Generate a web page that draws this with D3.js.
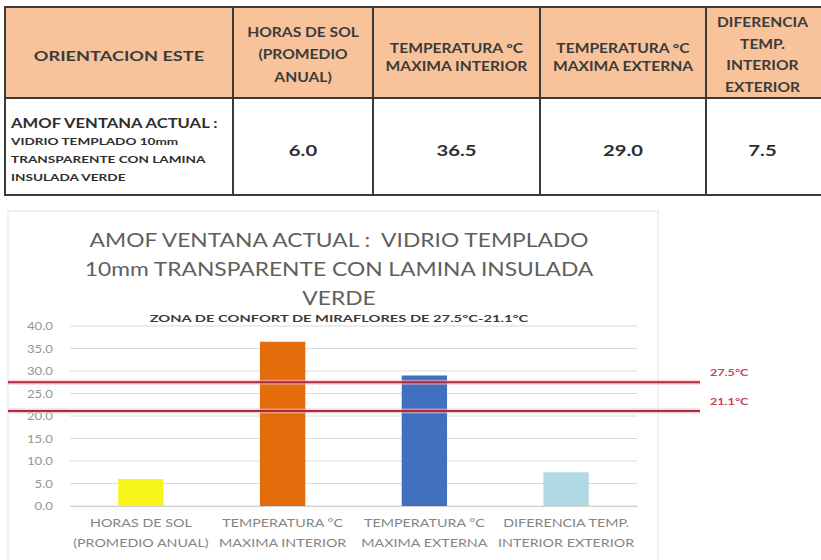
<!DOCTYPE html>
<html>
<head>
<meta charset="utf-8">
<script src="https://cdn.jsdelivr.net/npm/d3@7"></script>
<style>
  body { margin: 0; background: #fff; }
  svg { display: block; font-family: Lato, "Open Sans", sans-serif; }
  svg text { white-space: pre; }
</style>
</head>
<body>
<div id="chart"></div>
<script>
// Data
const categories = ["HORAS DE SOL|(PROMEDIO ANUAL)", "TEMPERATURA °C|MAXIMA INTERIOR", "TEMPERATURA °C|MAXIMA EXTERNA", "DIFERENCIA TEMP.|INTERIOR EXTERIOR"];
const values = [6.0, 36.5, 29.0, 7.5];
const barColors = ["#f7f41c", "#e46c0a", "#4170c0", "#b1d9e4"];
const yTicks = [0, 5, 10, 15, 20, 25, 30, 35, 40];
const comfortLines = [27.5, 21.1];
const comfortLabels = ["27.5°C", "21.1°C"];

const tableHeaders = [
  ["ORIENTACION ESTE"],
  ["HORAS DE SOL", "(PROMEDIO", "ANUAL)"],
  ["TEMPERATURA °C", "MAXIMA INTERIOR"],
  ["TEMPERATURA °C", "MAXIMA EXTERNA"],
  ["DIFERENCIA", "TEMP.", "INTERIOR", "EXTERIOR"]
];
const rowTitle = "AMOF VENTANA ACTUAL :";
const rowSub = ["VIDRIO TEMPLADO 10mm", "TRANSPARENTE CON LAMINA", "INSULADA VERDE"];
const rowValues = ["6.0", "36.5", "29.0", "7.5"];

const titleLines = ["AMOF VENTANA ACTUAL :  VIDRIO TEMPLADO", "10mm TRANSPARENTE CON LAMINA INSULADA", "VERDE"];
const subtitle = "ZONA DE CONFORT DE MIRAFLORES DE 27.5°C-21.1°C";

const width = 821;
const height = 560;

const svg = d3.select("#chart")
  .append("svg")
  .attr("width", width)
  .attr("height", height);

// text helper: the source picture is stretched sideways, so glyphs get a horizontal scale
function label(g, x, y, txt, o) {
  return g.append("text")
    .attr("transform", `translate(${x},${y}) scale(${o.sx || 1},1)`)
    .attr("dy", "0.35em")
    .attr("text-anchor", o.anchor || "middle")
    .style("font-size", o.size + "px")
    .style("font-weight", o.weight || "400")
    .style("fill", o.fill || "#333")
    .text(txt);
}

// ---- Table ----
const colEdges = [5, 233, 373, 540, 706, 840];
const rowTop = 7, rowMid = 98, rowBottom = 195;
const lineColor = "#3a3a3a";

svg.append("rect")
  .attr("x", colEdges[0]).attr("y", rowTop)
  .attr("width", colEdges[5] - colEdges[0]).attr("height", rowMid - rowTop)
  .attr("fill", "#f8c39a");

const table = svg.append("g");
table.append("rect")
  .attr("x", colEdges[0]).attr("y", rowTop)
  .attr("width", colEdges[5] - colEdges[0]).attr("height", rowBottom - rowTop)
  .attr("fill", "none").attr("stroke", lineColor).attr("stroke-width", 2);
table.append("line")
  .attr("x1", colEdges[0]).attr("x2", colEdges[5])
  .attr("y1", rowMid).attr("y2", rowMid)
  .attr("stroke", lineColor).attr("stroke-width", 2);
table.selectAll(".col-line")
  .data(colEdges.slice(1, 5))
  .join("line")
  .attr("class", "col-line")
  .attr("x1", d => d).attr("x2", d => d)
  .attr("y1", rowTop).attr("y2", rowBottom)
  .attr("stroke", lineColor).attr("stroke-width", 2);

// header texts (line spacing and centre per column)
const headLh = [0, 22.5, 18, 18, 21.5];
const headCy = [56, 55, 58, 58, 55];
tableHeaders.forEach((lines, i) => {
  const cx = i === 4 ? (colEdges[4] + 819) / 2 : (colEdges[i] + colEdges[i + 1]) / 2;
  const start = headCy[i] - (lines.length - 1) * headLh[i] / 2;
  lines.forEach((t, j) => {
    label(table, cx, start + j * headLh[i], t, {
      size: i === 0 ? 14 : 12.5, sx: i === 0 ? 1.3 : 1.25, weight: 700, fill: "#3b3b3b"
    });
  });
});

// data row
label(table, 11, 124, rowTitle, { size: 12.5, sx: 1.33, weight: 700, anchor: "start", fill: "#2e2e2e" });
rowSub.forEach((t, j) => {
  label(table, 11, 142 + j * 18, t, { size: 8.5, sx: 1.6, weight: 700, anchor: "start", fill: "#2e2e2e" });
});
rowValues.forEach((t, i) => {
  const cx = i === 3 ? (colEdges[4] + 819) / 2 : (colEdges[i + 1] + colEdges[i + 2]) / 2;
  label(table, cx, 151, t, { size: 15, sx: 1.35, weight: 700, fill: "#2e2e2e" });
});

// ---- Chart ----
svg.append("rect")
  .attr("x", 8).attr("y", 211)
  .attr("width", 650).attr("height", 360)
  .attr("fill", "#fff").attr("stroke", "#e3e3e3").attr("stroke-width", 1);

const plot = { left: 70, right: 637, top: 326, bottom: 506 };

const x = d3.scaleBand()
  .domain(categories)
  .range([plot.left, plot.right])
  .paddingInner(0.68)
  .paddingOuter(0.34);

const y = d3.scaleLinear()
  .domain([0, 40])
  .range([plot.bottom, plot.top]);

// title
const titleG = svg.append("g");
titleLines.forEach((t, i) => {
  label(titleG, 339, 240 + i * 29, t, { size: 20, sx: 1.14, fill: "#5f5f5f" });
});
label(svg, 339, 318, subtitle, { size: 10, sx: 1.47, weight: 700, fill: "#3a3a3a" });

// gridlines
svg.append("g")
  .selectAll("line")
  .data(yTicks)
  .join("line")
  .attr("x1", plot.left).attr("x2", plot.right)
  .attr("y1", d => y(d)).attr("y2", d => y(d))
  .attr("stroke", "#dadada").attr("stroke-width", 1);

// y axis labels
const yAxis = svg.append("g")
  .attr("transform", `translate(${plot.left - 17},0)`)
  .call(d3.axisLeft(y).tickValues(yTicks).tickFormat(d3.format(".1f")).tickSize(0).tickPadding(0));
yAxis.select(".domain").remove();
yAxis.selectAll(".tick text")
  .attr("x", null)
  .attr("transform", "scale(1.2,1)")
  .style("font-family", "Lato, sans-serif")
  .style("font-size", "11px")
  .style("fill", "#969696");

// bars
svg.append("g")
  .selectAll("rect")
  .data(values)
  .join("rect")
  .attr("x", (d, i) => x(categories[i]))
  .attr("width", x.bandwidth())
  .attr("y", d => y(d))
  .attr("height", d => y(0) - y(d))
  .attr("fill", (d, i) => barColors[i]);

// x axis
const xAxis = svg.append("g")
  .attr("transform", `translate(0,${plot.bottom})`)
  .call(d3.axisBottom(x).tickSize(0).tickFormat(""));
xAxis.select(".domain").attr("stroke", "#d0d0d0");
const xLabels = svg.append("g");
categories.forEach(c => {
  c.split("|").forEach((t, j) => {
    label(xLabels, x(c) + x.bandwidth() / 2, 523 + j * 20, t, { size: 11, sx: 1.3, fill: "#858585" });
  });
});

// comfort zone lines
const comfort = svg.append("g");
comfortLines.forEach((v, i) => {
  comfort.append("line")
    .attr("x1", 8).attr("x2", 700)
    .attr("y1", y(v)).attr("y2", y(v))
    .attr("stroke", "#f4b7c0").attr("stroke-width", 5).attr("opacity", 0.6);
  comfort.append("line")
    .attr("x1", 8).attr("x2", 700)
    .attr("y1", y(v)).attr("y2", y(v))
    .attr("stroke", "#ad2a40").attr("stroke-width", 2);
  label(comfort, 710, y(v) - 9, comfortLabels[i], { size: 9, sx: 1.4, weight: 700, anchor: "start", fill: "#c8435a" });
});
</script>
</body>
</html>
